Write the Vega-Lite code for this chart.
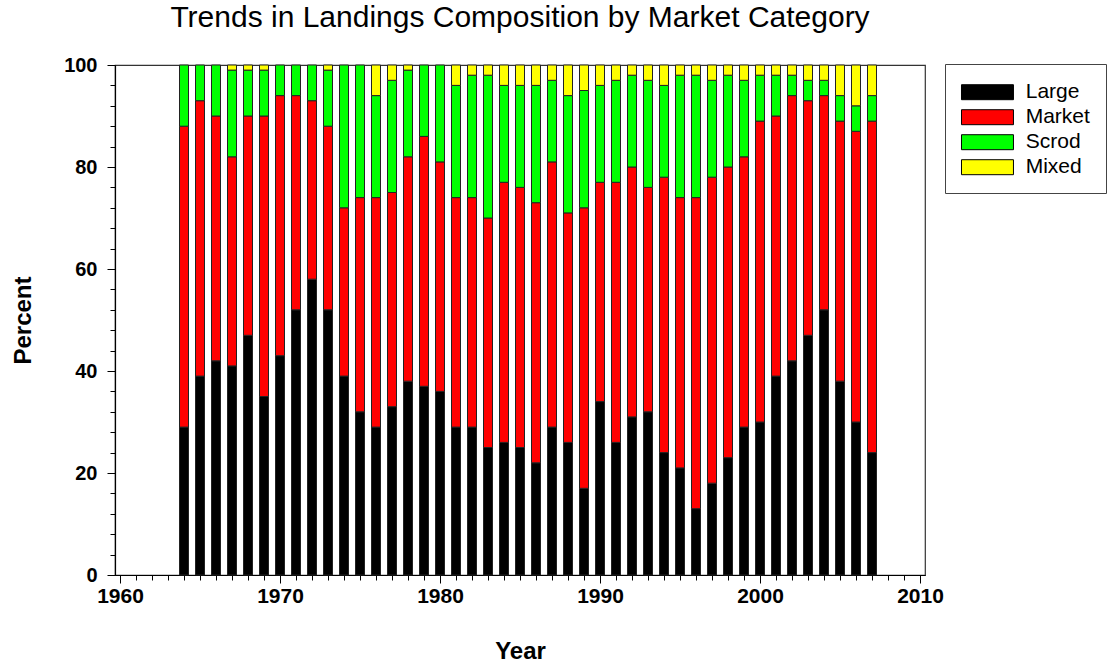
{
  "$schema": "https://vega.github.io/schema/vega-lite/v6.json",
  "autosize": {"type": "none"},
  "width": 810,
  "height": 510,
  "padding": {"left": 115, "top": 65, "right": 190, "bottom": 88},
  "background": "white",
  "title": {
    "text": "Trends in Landings Composition by Market Category",
    "font": "Liberation Sans",
    "fontSize": 30,
    "fontWeight": "normal",
    "color": "black",
    "anchor": "middle",
    "offset": 22
  },
  "data": {
    "values": [
      {"year": 1964, "Large": 29, "Market": 59, "Scrod": 12, "Mixed": 0},
      {"year": 1965, "Large": 39, "Market": 54, "Scrod": 7, "Mixed": 0},
      {"year": 1966, "Large": 42, "Market": 48, "Scrod": 10, "Mixed": 0},
      {"year": 1967, "Large": 41, "Market": 41, "Scrod": 17, "Mixed": 1},
      {"year": 1968, "Large": 47, "Market": 43, "Scrod": 9, "Mixed": 1},
      {"year": 1969, "Large": 35, "Market": 55, "Scrod": 9, "Mixed": 1},
      {"year": 1970, "Large": 43, "Market": 51, "Scrod": 6, "Mixed": 0},
      {"year": 1971, "Large": 52, "Market": 42, "Scrod": 6, "Mixed": 0},
      {"year": 1972, "Large": 58, "Market": 35, "Scrod": 7, "Mixed": 0},
      {"year": 1973, "Large": 52, "Market": 36, "Scrod": 11, "Mixed": 1},
      {"year": 1974, "Large": 39, "Market": 33, "Scrod": 28, "Mixed": 0},
      {"year": 1975, "Large": 32, "Market": 42, "Scrod": 26, "Mixed": 0},
      {"year": 1976, "Large": 29, "Market": 45, "Scrod": 20, "Mixed": 6},
      {"year": 1977, "Large": 33, "Market": 42, "Scrod": 22, "Mixed": 3},
      {"year": 1978, "Large": 38, "Market": 44, "Scrod": 17, "Mixed": 1},
      {"year": 1979, "Large": 37, "Market": 49, "Scrod": 14, "Mixed": 0},
      {"year": 1980, "Large": 36, "Market": 45, "Scrod": 19, "Mixed": 0},
      {"year": 1981, "Large": 29, "Market": 45, "Scrod": 22, "Mixed": 4},
      {"year": 1982, "Large": 29, "Market": 45, "Scrod": 24, "Mixed": 2},
      {"year": 1983, "Large": 25, "Market": 45, "Scrod": 28, "Mixed": 2},
      {"year": 1984, "Large": 26, "Market": 51, "Scrod": 19, "Mixed": 4},
      {"year": 1985, "Large": 25, "Market": 51, "Scrod": 20, "Mixed": 4},
      {"year": 1986, "Large": 22, "Market": 51, "Scrod": 23, "Mixed": 4},
      {"year": 1987, "Large": 29, "Market": 52, "Scrod": 16, "Mixed": 3},
      {"year": 1988, "Large": 26, "Market": 45, "Scrod": 23, "Mixed": 6},
      {"year": 1989, "Large": 17, "Market": 55, "Scrod": 23, "Mixed": 5},
      {"year": 1990, "Large": 34, "Market": 43, "Scrod": 19, "Mixed": 4},
      {"year": 1991, "Large": 26, "Market": 51, "Scrod": 20, "Mixed": 3},
      {"year": 1992, "Large": 31, "Market": 49, "Scrod": 18, "Mixed": 2},
      {"year": 1993, "Large": 32, "Market": 44, "Scrod": 21, "Mixed": 3},
      {"year": 1994, "Large": 24, "Market": 54, "Scrod": 18, "Mixed": 4},
      {"year": 1995, "Large": 21, "Market": 53, "Scrod": 24, "Mixed": 2},
      {"year": 1996, "Large": 13, "Market": 61, "Scrod": 24, "Mixed": 2},
      {"year": 1997, "Large": 18, "Market": 60, "Scrod": 19, "Mixed": 3},
      {"year": 1998, "Large": 23, "Market": 57, "Scrod": 18, "Mixed": 2},
      {"year": 1999, "Large": 29, "Market": 53, "Scrod": 15, "Mixed": 3},
      {"year": 2000, "Large": 30, "Market": 59, "Scrod": 9, "Mixed": 2},
      {"year": 2001, "Large": 39, "Market": 51, "Scrod": 8, "Mixed": 2},
      {"year": 2002, "Large": 42, "Market": 52, "Scrod": 4, "Mixed": 2},
      {"year": 2003, "Large": 47, "Market": 46, "Scrod": 4, "Mixed": 3},
      {"year": 2004, "Large": 52, "Market": 42, "Scrod": 3, "Mixed": 3},
      {"year": 2005, "Large": 38, "Market": 51, "Scrod": 5, "Mixed": 6},
      {"year": 2006, "Large": 30, "Market": 57, "Scrod": 5, "Mixed": 8},
      {"year": 2007, "Large": 24, "Market": 65, "Scrod": 5, "Mixed": 6}
    ]
  },
  "transform": [
    {"fold": ["Large", "Market", "Scrod", "Mixed"], "as": ["Category", "Percent"]},
    {"window": [{"op": "row_number", "as": "StackRank"}], "groupby": ["year"]},
    {"filter": "datum.Percent > 0"}
  ],
  "mark": {"type": "bar", "size": 9, "stroke": "#222222", "strokeWidth": 1},
  "encoding": {
    "x": {
      "field": "year",
      "type": "quantitative",
      "scale": {"domain": [1960, 2010], "nice": false, "zero": false},
      "axis": {
        "title": "Year",
        "values": [1960,1961,1962,1963,1964,1965,1966,1967,1968,1969,1970,1971,1972,1973,1974,1975,1976,1977,1978,1979,1980,1981,1982,1983,1984,1985,1986,1987,1988,1989,1990,1991,1992,1993,1994,1995,1996,1997,1998,1999,2000,2001,2002,2003,2004,2005,2006,2007,2008,2009,2010],
        "format": "d",
        "labelExpr": "datum.value % 10 === 0 ? datum.label : ''",
        "labelOverlap": false,
        "labelFlush": false,
        "labelFontSize": 21,
        "labelPadding": 2,
        "tickSize": {"condition": {"test": "datum.value % 10 === 0", "value": 8}, "value": 5},
        "titleFontSize": 24,
        "titleBaseline": "alphabetic",
        "titleY": 83
      }
    },
    "y": {
      "field": "Percent",
      "type": "quantitative",
      "stack": "zero",
      "scale": {"domain": [0, 100], "nice": false},
      "axis": {
        "title": "Percent",
        "values": [0,4,8,12,16,20,24,28,32,36,40,44,48,52,56,60,64,68,72,76,80,84,88,92,96,100],
        "labelExpr": "datum.value % 20 === 0 ? datum.label : ''",
        "labelOverlap": false,
        "labelFlush": false,
        "labelFontSize": 20,
        "labelPadding": 10,
        "tickSize": {"condition": {"test": "datum.value % 20 === 0", "value": 8}, "value": 5},
        "titleFontSize": 24,
        "titleBaseline": "alphabetic",
        "titleX": -85
      }
    },
    "order": {"field": "StackRank", "type": "quantitative", "sort": "ascending"},
    "color": {
      "field": "Category",
      "type": "nominal",
      "scale": {
        "domain": ["Large", "Market", "Scrod", "Mixed"],
        "range": ["#000000", "#FF0000", "#00FF00", "#FFFF00"]
      },
      "legend": {
        "title": null,
        "orient": "none",
        "legendX": 830,
        "legendY": -1,
        "padding": 15.7,
        "strokeColor": "#444444",
        "fillColor": "white",
        "symbolType": "M-1,-0.64H3.44V0.64H-1Z",
        "symbolSize": 548,
        "symbolStrokeColor": "black",
        "symbolStrokeWidth": 1,
        "symbolOpacity": 1,
        "labelFontSize": 21,
        "labelFont": "Liberation Sans",
        "labelColor": "black",
        "labelOffset": 40,
        "rowPadding": 2
      }
    }
  },
  "config": {
    "view": {"stroke": "#333333", "strokeWidth": 1.2},
    "axis": {
      "grid": false,
      "domainColor": "black",
      "domainWidth": 1.2,
      "tickColor": "black",
      "tickWidth": 1,
      "labelFont": "Liberation Sans",
      "labelFontWeight": "bold",
      "labelColor": "black",
      "titleFont": "Liberation Sans",
      "titleFontWeight": "bold",
      "titleColor": "black"
    }
  }
}
